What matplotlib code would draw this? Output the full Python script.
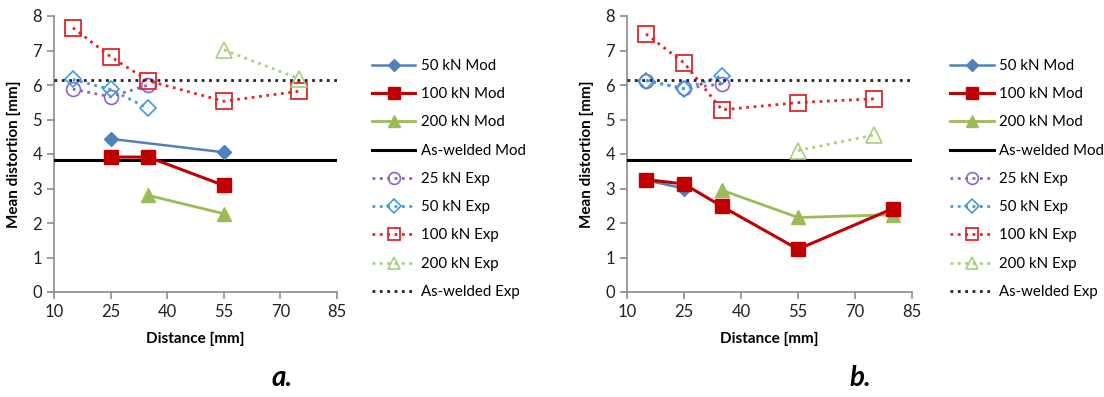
import matplotlib.pyplot as plt

plt.rcParams['font.family'] = ['Lato', 'DejaVu Sans']

# ---- data (a) ----
a_mod50_x = [25, 55];          a_mod50_y = [4.44, 4.05]
a_mod100_x = [25, 35, 55];     a_mod100_y = [3.91, 3.91, 3.09]
a_mod200_x = [35, 55];         a_mod200_y = [2.80, 2.27]
a_exp25_x = [15, 25, 35];      a_exp25_y = [5.88, 5.66, 6.00]
a_exp50_x = [15, 25, 35];      a_exp50_y = [6.16, 5.87, 5.32]
a_exp100_x = [15, 25, 35, 55, 75]; a_exp100_y = [7.66, 6.82, 6.12, 5.53, 5.82]
a_exp200_x = [55, 75];         a_exp200_y = [7.02, 6.18]

# ---- data (b) ----
b_mod50_x = [15, 25];          b_mod50_y = [3.24, 3.00]
b_mod100_x = [15, 25, 35, 55, 80]; b_mod100_y = [3.26, 3.13, 2.48, 1.24, 2.42]
b_mod200_x = [35, 55, 80];     b_mod200_y = [2.95, 2.16, 2.24]
b_exp25_x = [15, 25, 35];      b_exp25_y = [6.13, 5.90, 6.03]
b_exp50_x = [15, 25, 35];      b_exp50_y = [6.13, 5.89, 6.27]
b_exp100_x = [15, 25, 35, 55, 75]; b_exp100_y = [7.48, 6.64, 5.28, 5.49, 5.60]
b_exp200_x = [55, 75];         b_exp200_y = [4.10, 4.55]

aw_x = [10, 85]
aw_mod = 3.83
aw_exp = 6.14

xticks = [10, 25, 40, 55, 70, 85]
yticks = [0, 1, 2, 3, 4, 5, 6, 7, 8]

c_blue = '#4f81bd'
c_red = '#c00000'
c_green = '#9bbb59'
c_purple = '#9062c8'
c_lblue = '#3d9be0'
c_lred = '#e0262a'
c_lgreen = '#a6cf7e'
grey = '#8c8c8c'

fig = plt.figure(figsize=(11.04, 3.97), dpi=100)
ax1 = fig.add_axes([54/1104, 1 - 292/397, 283/1104, 276/397])
ax2 = fig.add_axes([627/1104, 1 - 292/397, 285/1104, 276/397])


def draw(ax, d):
    ax.plot(d['m50'][0], d['m50'][1], color=c_blue, lw=1.8, marker='D', ms=7,
            label='50 kN Mod', zorder=4, clip_on=False)
    ax.plot(d['m100'][0], d['m100'][1], color=c_red, lw=2.2, marker='s', ms=10,
            label='100 kN Mod', zorder=5, clip_on=False)
    ax.plot(d['m200'][0], d['m200'][1], color=c_green, lw=2.0, marker='^', ms=10,
            label='200 kN Mod', zorder=4, clip_on=False)
    ax.plot(aw_x, [aw_mod, aw_mod], color='black', lw=2.2, label='As-welded Mod', zorder=3)
    ax.plot(d['e25'][0], d['e25'][1], color=c_purple, lw=2, ls=':', marker='o', ms=10,
            mfc='none', mew=1.2, label='25 kN Exp', zorder=3)
    ax.plot(d['e50'][0], d['e50'][1], color=c_lblue, lw=2, ls=':', marker='D', ms=8,
            mfc='none', mew=1.2, label='50 kN Exp', zorder=3)
    ax.plot(d['e100'][0], d['e100'][1], color=c_lred, lw=2, ls=':', marker='s', ms=11,
            mfc='none', mew=1.3, label='100 kN Exp', zorder=3)
    ax.plot(d['e200'][0], d['e200'][1], color=c_lgreen, lw=2, ls=':', marker='^', ms=11,
            mfc='none', mew=1.2, label='200 kN Exp', zorder=3)
    ax.plot(aw_x, [aw_exp, aw_exp], color='#222222', lw=2, ls=':', label='As-welded Exp', zorder=3)

    ax.set_xlim(10, 85)
    ax.set_ylim(0, 8)
    ax.set_xticks(xticks)
    ax.set_yticks(yticks)
    for s in ['top', 'right']:
        ax.spines[s].set_visible(False)
    for s in ['left', 'bottom']:
        ax.spines[s].set_color(grey)
        ax.spines[s].set_linewidth(1.2)
    ax.tick_params(colors=grey, labelcolor='#222222', labelsize=12, length=5, width=1.2)
    ax.set_xlabel('Distance [mm]', fontsize=11, fontweight='bold', labelpad=9)
    ax.set_ylabel('Mean distortion [mm]', fontsize=11, fontweight='bold', labelpad=8)


draw(ax1, {'m50': (a_mod50_x, a_mod50_y), 'm100': (a_mod100_x, a_mod100_y),
           'm200': (a_mod200_x, a_mod200_y), 'e25': (a_exp25_x, a_exp25_y),
           'e50': (a_exp50_x, a_exp50_y), 'e100': (a_exp100_x, a_exp100_y),
           'e200': (a_exp200_x, a_exp200_y)})
draw(ax2, {'m50': (b_mod50_x, b_mod50_y), 'm100': (b_mod100_x, b_mod100_y),
           'm200': (b_mod200_x, b_mod200_y), 'e25': (b_exp25_x, b_exp25_y),
           'e50': (b_exp50_x, b_exp50_y), 'e100': (b_exp100_x, b_exp100_y),
           'e200': (b_exp200_x, b_exp200_y)})

for ax, lx in [(ax1, 366/1104), (ax2, 944/1104)]:
    fig.legend(*ax.get_legend_handles_labels(), loc='upper left',
               bbox_to_anchor=(lx, 1 - 53/397), frameon=False, fontsize=10.8,
               handlelength=2.9, handletextpad=0.35, labelspacing=0.95,
               borderaxespad=0, markerscale=0.85)

fig.text(282/1104, 1 - 378/397, 'a.', fontsize=20, fontweight='bold', style='italic',
         ha='center', va='center')
fig.text(860/1104, 1 - 378/397, 'b.', fontsize=20, fontweight='bold', style='italic',
         ha='center', va='center')

fig.savefig('out.png', dpi=100)
